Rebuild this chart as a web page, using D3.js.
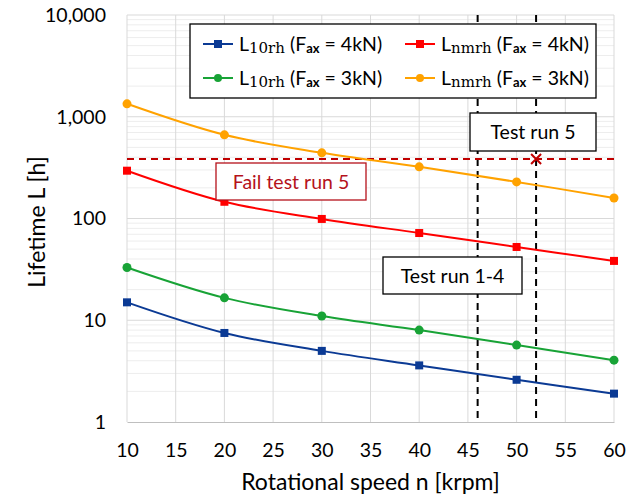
<!DOCTYPE html>
<html>
<head>
<meta charset="utf-8">
<script src="https://cdn.jsdelivr.net/npm/d3@7"></script>
<style>
body { margin: 0; background: #fff; }
text { font-family: Lato, "Open Sans", sans-serif; fill: #000; }
</style>
</head>
<body>
<div id="chart"></div>
<script>
// data
var speeds = [10, 20, 30, 40, 50, 60];
var l10_4kN = [15, 7.5, 5, 3.6, 2.6, 1.9];
var l10_3kN = [33, 16.6, 11, 8.0, 5.7, 4.05];
var lnm_4kN = [295, 146, 99, 72, 52.5, 38.3];
var lnm_3kN = [1340, 664, 442, 322, 229, 159];
var xTicks = [10, 15, 20, 25, 30, 35, 40, 45, 50, 55, 60];
var yTicks = [1, 10, 100, 1000, 10000];
var failLevel = 385;
var testRuns = [46, 52];
var failPoint = [52, 385];

var width = 638, height = 499;
var margin = {top: 15, right: 24, bottom: 77, left: 127};

var svg = d3.select("#chart").append("svg")
    .attr("width", width)
    .attr("height", height);

var x = d3.scaleLinear().domain([10, 60]).range([margin.left, width - margin.right]);
var y = d3.scaleLog().domain([1, 10000]).range([height - margin.bottom, margin.top]);

// minor gridlines
var minor = [];
for (var e = 0; e < 4; e++) {
    for (var k = 2; k <= 9; k++) minor.push(k * Math.pow(10, e));
}
svg.append("g").selectAll("line")
    .data(minor)
    .enter().append("line")
    .attr("x1", x(10)).attr("x2", x(60))
    .attr("y1", function (d) { return y(d); })
    .attr("y2", function (d) { return y(d); })
    .attr("stroke", "#ededed");

// major gridlines
svg.append("g").selectAll("line")
    .data(yTicks.slice(1))
    .enter().append("line")
    .attr("x1", x(10)).attr("x2", x(60))
    .attr("y1", function (d) { return y(d); })
    .attr("y2", function (d) { return y(d); })
    .attr("stroke", "#d9d9d9");

svg.append("g").selectAll("line")
    .data(xTicks)
    .enter().append("line")
    .attr("x1", function (d) { return x(d); })
    .attr("x2", function (d) { return x(d); })
    .attr("y1", y(10000)).attr("y2", y(1))
    .attr("stroke", "#d9d9d9");

// x axis
var xAxis = svg.append("g")
    .attr("transform", "translate(0," + y(1) + ")")
    .call(d3.axisBottom(x).tickValues(xTicks).tickSize(0).tickPadding(21));
xAxis.select(".domain").attr("stroke", "#bfbfbf");
xAxis.selectAll("text").style("font-size", "19.5px").style("font-family", "Lato, sans-serif");

// y axis
var yAxis = svg.append("g")
    .attr("transform", "translate(" + x(10) + ",0)")
    .call(d3.axisLeft(y).tickValues(yTicks).tickFormat(d3.format(",")).tickSize(0).tickPadding(21));
yAxis.select(".domain").remove();
yAxis.selectAll("text").style("font-size", "19.5px").style("font-family", "Lato, sans-serif");

// axis titles
svg.append("text")
    .attr("x", (x(10) + x(60)) / 2)
    .attr("y", 490)
    .attr("text-anchor", "middle")
    .style("font-size", "23px")
    .text("Rotational speed n [krpm]");

svg.append("text")
    .attr("transform", "rotate(-90)")
    .attr("x", -222)
    .attr("y", 45)
    .attr("text-anchor", "middle")
    .style("font-size", "23px")
    .text("Lifetime L [h]");

// test run lines
svg.append("g").selectAll("line")
    .data(testRuns)
    .enter().append("line")
    .attr("x1", function (d) { return x(d); })
    .attr("x2", function (d) { return x(d); })
    .attr("y1", y(10000)).attr("y2", y(1))
    .attr("stroke", "#000")
    .attr("stroke-width", 2)
    .attr("stroke-dasharray", "7,5");

// fail level
svg.append("line")
    .attr("x1", x(10)).attr("x2", x(60))
    .attr("y1", y(failLevel)).attr("y2", y(failLevel))
    .attr("stroke", "#c00000")
    .attr("stroke-width", 2)
    .attr("stroke-dasharray", "7,5");

var series = [
    {values: l10_4kN, color: "#0b3a94", marker: "square"},
    {values: l10_3kN, color: "#18a336", marker: "circle"},
    {values: lnm_4kN, color: "#ff0000", marker: "square"},
    {values: lnm_3kN, color: "#ffa200", marker: "circle"}
];

var line = d3.line()
    .x(function (d) { return x(d[0]); })
    .y(function (d) { return y(d[1]); })
    .curve(d3.curveCatmullRom.alpha(0.5));

series.forEach(function (s) {
    var pts = speeds.map(function (v, i) { return [v, s.values[i]]; });
    svg.append("path")
        .datum(pts)
        .attr("fill", "none")
        .attr("stroke", s.color)
        .attr("stroke-width", 2)
        .attr("d", line);
    var g = svg.append("g");
    if (s.marker === "square") {
        g.selectAll("rect").data(pts).enter().append("rect")
            .attr("x", function (d) { return x(d[0]) - 4; })
            .attr("y", function (d) { return y(d[1]) - 4; })
            .attr("width", 8).attr("height", 8)
            .attr("fill", s.color);
    } else {
        g.selectAll("circle").data(pts).enter().append("circle")
            .attr("cx", function (d) { return x(d[0]); })
            .attr("cy", function (d) { return y(d[1]); })
            .attr("r", 4.5)
            .attr("fill", s.color);
    }
});

// fail marker
var fx = x(failPoint[0]), fy = y(failPoint[1]);
svg.append("path")
    .attr("d", "M" + (fx - 5) + "," + (fy - 5) + "L" + (fx + 5) + "," + (fy + 5) +
        "M" + (fx - 5) + "," + (fy + 5) + "L" + (fx + 5) + "," + (fy - 5))
    .attr("stroke", "#c00000")
    .attr("stroke-width", 2);

// annotation boxes
function box(x0, y0, w, h, label, color) {
    svg.append("rect")
        .attr("x", x0).attr("y", y0).attr("width", w).attr("height", h)
        .attr("fill", "#fff")
        .attr("stroke", color)
        .attr("stroke-width", 1.3);
    svg.append("text")
        .attr("x", x0 + w / 2).attr("y", y0 + h / 2 + 7)
        .attr("text-anchor", "middle")
        .style("font-size", "19.5px")
        .style("fill", color === "#000" ? "#000" : "#b5121b")
        .text(label);
}
box(470, 113, 126, 38, "Test run  5", "#000");
box(216, 163, 150, 37, "Fail test run 5", "#b5121b");
box(383, 257, 139, 37, "Test run 1-4", "#000");

// legend
var legend = svg.append("g");
legend.append("rect")
    .attr("x", 190).attr("y", 24).attr("width", 406).attr("height", 74)
    .attr("fill", "#fff")
    .attr("stroke", "#000")
    .attr("stroke-width", 1.3);

var legendItems = [
    {s: series[0], sub: "10rh", f: "4kN", cx: 203, cy: 44},
    {s: series[2], sub: "nmrh", f: "4kN", cx: 405, cy: 44},
    {s: series[1], sub: "10rh", f: "3kN", cx: 203, cy: 78},
    {s: series[3], sub: "nmrh", f: "3kN", cx: 405, cy: 78}
];

legendItems.forEach(function (d) {
    legend.append("line")
        .attr("x1", d.cx).attr("x2", d.cx + 30)
        .attr("y1", d.cy).attr("y2", d.cy)
        .attr("stroke", d.s.color).attr("stroke-width", 2);
    if (d.s.marker === "square") {
        legend.append("rect")
            .attr("x", d.cx + 11).attr("y", d.cy - 4)
            .attr("width", 8).attr("height", 8)
            .attr("fill", d.s.color);
    } else {
        legend.append("circle")
            .attr("cx", d.cx + 15).attr("cy", d.cy).attr("r", 4)
            .attr("fill", d.s.color);
    }
    var t = legend.append("text")
        .attr("x", d.cx + 36).attr("y", d.cy + 7)
        .style("font-size", "19.5px");
    t.append("tspan").text("L");
    t.append("tspan").attr("dy", 2)
        .style("font-size", "15px")
        .style("font-family", "'DejaVu Serif', serif")
        .text(d.sub);
    t.append("tspan").attr("dy", -2).text(" (F");
    t.append("tspan").attr("dy", 2)
        .style("font-size", "13px")
        .style("font-weight", "bold")
        .text("ax");
    t.append("tspan").attr("dy", -2).text(" = " + d.f + ")");
});
</script>
</body>
</html>
